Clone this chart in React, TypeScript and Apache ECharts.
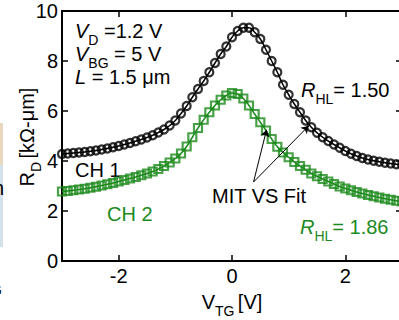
import React, { useEffect, useRef } from "react";
import * as echarts from "echarts";

const xValues = [
  -3.0, -2.9, -2.8, -2.7, -2.6, -2.5, -2.4, -2.3, -2.2, -2.1, -2.0, -1.9, -1.8, -1.7, -1.6, -1.5,
  -1.4, -1.3, -1.2, -1.1, -1.0, -0.9, -0.8, -0.7, -0.6, -0.5, -0.4, -0.3, -0.2, -0.1, 0.0, 0.1,
  0.2, 0.3, 0.4, 0.5, 0.6, 0.7, 0.8, 0.9, 1.0, 1.1, 1.2, 1.3, 1.4, 1.5, 1.6, 1.7, 1.8, 1.9, 2.0,
  2.1, 2.2, 2.3, 2.4, 2.5, 2.6, 2.7, 2.8, 2.9, 3.0,
];

const ch1Values = [
  4.28, 4.3, 4.32, 4.34, 4.36, 4.39, 4.42, 4.46, 4.5, 4.55, 4.6, 4.66, 4.72, 4.79, 4.86, 4.94,
  5.03, 5.14, 5.26, 5.42, 5.62, 5.9, 6.2, 6.55, 6.88, 7.2, 7.55, 7.92, 8.28, 8.58, 8.95, 9.2,
  9.33, 9.33, 9.15, 8.88, 8.45, 8.0, 7.55, 7.05, 6.65, 6.28, 5.95, 5.62, 5.35, 5.13, 4.95, 4.8,
  4.66, 4.53, 4.4, 4.29, 4.2, 4.12, 4.06, 4.01, 3.97, 3.93, 3.9, 3.87, 3.85,
];

const ch2Values = [
  2.78, 2.8, 2.83, 2.86, 2.89, 2.93, 2.97, 3.02, 3.07, 3.12, 3.18, 3.24, 3.3, 3.36, 3.43, 3.5,
  3.58, 3.68, 3.8, 3.94, 4.1, 4.3, 4.58, 4.95, 5.32, 5.65, 5.95, 6.22, 6.45, 6.62, 6.72, 6.68,
  6.5, 6.22, 5.88, 5.55, 5.22, 4.88, 4.57, 4.34, 4.15, 3.96, 3.8, 3.65, 3.5, 3.39, 3.28, 3.18,
  3.08, 2.98, 2.9, 2.83, 2.76, 2.7, 2.64, 2.59, 2.54, 2.49, 2.45, 2.41, 2.38,
];

const xTicks = [-2, 0, 2];

// arrow annotation (data coordinates): from label to curves
const arrowStart = [0.38, 3.16];
const arrowTipCh2 = [0.61, 5.25];
const arrowTipCh1 = [1.35, 5.4];

const BLACK = "#000000";
const GREEN = "#1c8a1c";
const FONT = "'Liberation Sans', Arial, sans-serif";

function pairs(xs: number[], ys: number[]) {
  return xs.map((x, i) => [x, ys[i]]);
}

export default function App() {
  const ref = useRef<HTMLDivElement>(null);

  useEffect(() => {
    if (!ref.current) return;
    const chart = echarts.init(ref.current, undefined, { renderer: "svg" });

    const sub = { fontSize: 14, verticalAlign: "bottom", padding: [0, 0, -6, 0], fontFamily: FONT };
    const it = { fontStyle: "italic", fontSize: 20, fontFamily: FONT };

    const axisLine = { show: true, onZero: false, lineStyle: { color: BLACK, width: 2 } };
    const tick = { inside: true, length: 6, lineStyle: { color: BLACK, width: 1.5 } };

    chart.setOption({
      animation: false,
      backgroundColor: "#ffffff",
      textStyle: { fontFamily: FONT },
      grid: { left: 62, top: 11, width: 340, height: 250, containLabel: false, outerBoundsMode: "none" },
      xAxis: [
        {
          type: "value",
          min: -3,
          max: 3,
          axisLine,
          splitLine: { show: false },
          axisTick: { ...tick, customValues: xTicks },
          axisLabel: {
            customValues: xTicks,
            color: BLACK,
            fontSize: 20,
            fontFamily: FONT,
            margin: 5,
            formatter: (v: number) => (v < 0 ? "-" + Math.abs(v) : String(v)),
          },
          name: "{v|V}{s|TG} {v|[V]}",
          nameLocation: "middle",
          nameGap: 31,
          nameTextStyle: {
            color: BLACK,
            rich: {
              v: { fontSize: 20, fontFamily: FONT, color: BLACK },
              s: { ...sub, color: BLACK },
            },
          },
        },
        {
          type: "value",
          position: "top",
          min: -3,
          max: 3,
          axisLine,
          splitLine: { show: false },
          axisTick: { ...tick, customValues: xTicks },
          axisLabel: { show: false },
        },
      ],
      yAxis: [
        {
          type: "value",
          min: 0,
          max: 10,
          interval: 2,
          axisLine,
          splitLine: { show: false },
          axisTick: tick,
          axisLabel: { color: BLACK, fontSize: 20, fontFamily: FONT, margin: 4 },
        },
        {
          type: "value",
          position: "right",
          min: 0,
          max: 10,
          interval: 2,
          axisLine,
          splitLine: { show: false },
          axisTick: tick,
          axisLabel: { show: false },
        },
      ],
      series: [
        {
          name: "CH 1 fit",
          type: "line",
          data: pairs(xValues, ch1Values),
          smooth: true,
          symbol: "none",
          lineStyle: { color: BLACK, width: 1.5 },
          z: 3,
        },
        {
          name: "CH 1",
          type: "scatter",
          data: pairs(xValues, ch1Values),
          symbol: "circle",
          symbolSize: 8,
          itemStyle: { color: "rgba(255,255,255,0)", borderColor: BLACK, borderWidth: 2.2 },
          z: 4,
        },
        {
          name: "CH 2 fit",
          type: "line",
          data: pairs(xValues, ch2Values),
          smooth: true,
          symbol: "none",
          lineStyle: { color: GREEN, width: 1.5 },
          z: 3,
        },
        {
          name: "CH 2",
          type: "scatter",
          data: pairs(xValues, ch2Values),
          symbol: "rect",
          symbolSize: 8,
          itemStyle: { color: "rgba(255,255,255,0)", borderColor: GREEN, borderWidth: 2.2 },
          z: 4,
        },
        {
          name: "arrows",
          type: "lines",
          coordinateSystem: "cartesian2d",
          symbol: ["none", "arrow"],
          symbolSize: 7,
          lineStyle: { color: BLACK, width: 1, opacity: 1 },
          data: [{ coords: [arrowStart, arrowTipCh2] }, { coords: [arrowStart, arrowTipCh1] }],
          z: 5,
        },
      ],
      graphic: [
        { type: "rect", shape: { x: 0, y: 123, width: 3, height: 42 }, style: { fill: "#e9d7c0" }, silent: true },
        { type: "rect", shape: { x: 0, y: 165, width: 3, height: 82 }, style: { fill: "#d3e2ea" }, silent: true },
        { type: "text", x: -7, y: 178, style: { text: "n", fontSize: 20, fontFamily: FONT, fill: BLACK } },
        { type: "text", x: -9, y: 283, style: { text: "G", fontSize: 14, fontFamily: FONT, fill: BLACK } },
        {
          type: "text",
          x: 27,
          y: 137,
          rotation: Math.PI / 2,
          style: {
            text: "{v|R}{s|D} {v|[kΩ-μm]}",
            align: "center",
            verticalAlign: "middle",
            fill: BLACK,
            rich: { v: { fontSize: 20, fontFamily: FONT }, s: sub },
          },
        },
        {
          type: "text",
          x: 75,
          y: 21,
          style: { text: "{i|V}{s|D} =1.2 V", fontSize: 20, fontFamily: FONT, fill: BLACK, rich: { i: it, s: sub } },
        },
        {
          type: "text",
          x: 75,
          y: 44,
          style: { text: "{i|V}{s|BG} = 5 V", fontSize: 20, fontFamily: FONT, fill: BLACK, rich: { i: it, s: sub } },
        },
        {
          type: "text",
          x: 75,
          y: 67,
          style: { text: "{i|L} = 1.5 μm", fontSize: 20, fontFamily: FONT, fill: BLACK, rich: { i: it, s: sub } },
        },
        {
          type: "text",
          x: 301,
          y: 80,
          style: { text: "{i|R}{s|HL}= 1.50", fontSize: 20, fontFamily: FONT, fill: BLACK, rich: { i: it, s: sub } },
        },
        {
          type: "text",
          x: 300,
          y: 217,
          style: {
            text: "{i|R}{s|HL}= 1.86",
            fontSize: 20,
            fontFamily: FONT,
            fill: GREEN,
            rich: { i: { ...it, color: GREEN }, s: { ...sub, color: GREEN } },
          },
        },
        { type: "text", x: 75, y: 160, style: { text: "CH 1", fontSize: 20, fontFamily: FONT, fill: BLACK } },
        { type: "text", x: 107, y: 204, style: { text: "CH 2", fontSize: 20, fontFamily: FONT, fill: GREEN } },
        { type: "text", x: 212, y: 186, style: { text: "MIT VS Fit", fontSize: 20, fontFamily: FONT, fill: BLACK } },
      ],
    });

    return () => chart.dispose();
  }, []);

  return (
    <div style={{ position: "fixed", left: 0, top: 0, width: 399, height: 320, overflow: "hidden", background: "#fff" }}>
      <div ref={ref} style={{ width: 404, height: 320 }} />
    </div>
  );
}
